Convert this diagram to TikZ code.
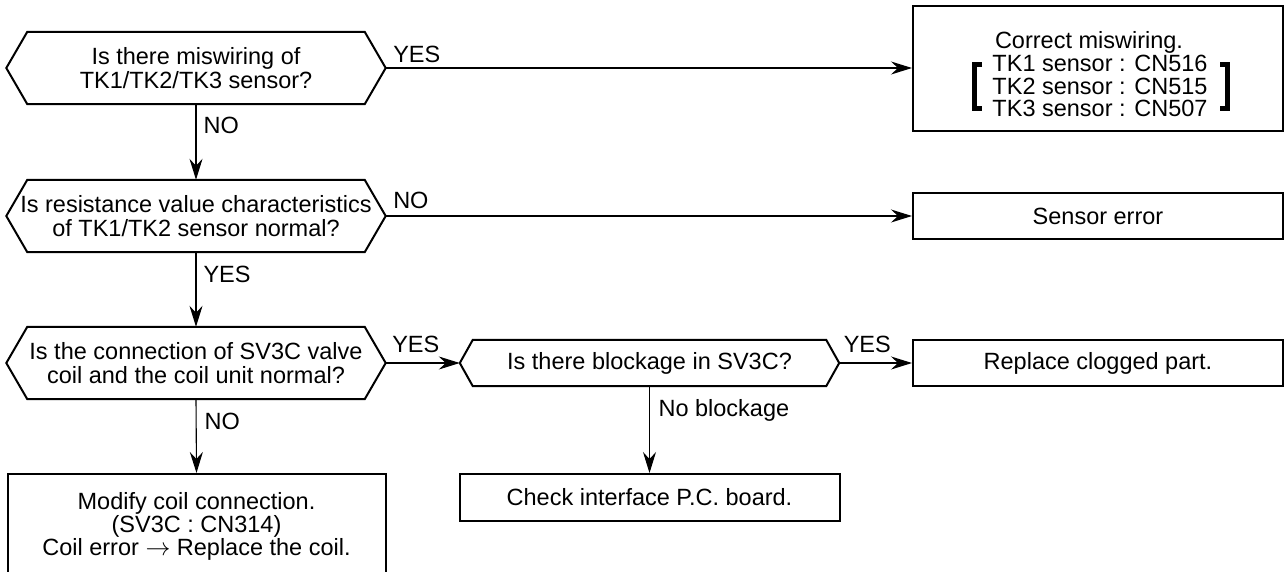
\documentclass[tikz,border=0pt]{standalone}
\usepackage{fontspec}
\setmainfont{Liberation Sans}
\usetikzlibrary{arrows.meta}
\begin{document}
\begin{tikzpicture}[x=1pt,y=-1pt,
  every node/.style={font=\fontsize{23.5}{24}\selectfont, inner sep=0pt},
  hexnode/.style={align=center, minimum width=379pt, minimum height=72pt},
  box/.style={draw, line width=2pt, align=center},
  hexline/.style={line width=2pt, line join=miter},
  conn/.style={line width=1.1pt, -{Stealth[length=21pt,width=13pt,inset=7pt]}},
  lab/.style={anchor=base west}]
\useasboundingbox (0,0) rectangle (1285,571);
\clip (0,0) rectangle (1285,571);

% decision nodes
\node[hexnode] (h1) at (196,68) {Is there miswiring of\\TK1/TK2/TK3 sensor?};
\node[hexnode] (h2) at (196,216) {Is resistance value characteristics\\of TK1/TK2 sensor normal?};
\node[hexnode] (h3) at (196,363) {Is the connection of SV3C valve\\coil and the coil unit normal?};
\node[hexnode, minimum width=379pt, minimum height=46pt] (h4) at (649.5,363) {Is there blockage in SV3C?};

\foreach \n/\c in {h1/21,h2/21,h3/21,h4/13}
  \draw[hexline] (\n.west) -- ([xshift=\c pt]\n.north west) -- ([xshift=-\c pt]\n.north east)
    -- (\n.east) -- ([xshift=-\c pt]\n.south east) -- ([xshift=\c pt]\n.south west) -- cycle;

% process boxes
\node[box, minimum width=370pt, minimum height=125pt] (mis) at (1098,68) {};
\node[align=center, font=\fontsize{23.5}{22.7}\selectfont] (mistxt) at (1100,74.5)
  {Correct miswiring.\hspace*{22pt}\\TK1 sensor : CN516\\TK2 sensor : CN515\\TK3 sensor : CN507};
\draw[line width=5pt] (982,64.5) -- (974.5,64.5) -- (974.5,108.5) -- (982,108.5);
\draw[line width=5pt] (1220,64.5) -- (1227.5,64.5) -- (1227.5,108.5) -- (1220,108.5);

\node[box, minimum width=370pt, minimum height=45.5pt] (sens) at (1098,216) {Sensor error};
\node[box, minimum width=370pt, minimum height=46pt] (clog) at (1098,363) {Replace clogged part.};
\node[box, minimum width=380pt, minimum height=47pt] (chk) at (649.5,497.5) {Check interface P.C. board.};
\node[box, minimum width=378pt, minimum height=200pt] (mod) at (196.5,574) {};
\node[align=center, font=\fontsize{23.5}{23}\selectfont] (modtxt) at (196.5,526)
  {Modify coil connection.\\(SV3C : CN314)\\Coil error $\rightarrow$ Replace the coil.};

% connectors
\draw[conn] (h1.east) -- node[lab, at start, xshift=7pt, yshift=6pt] {YES} (mis.west);
\draw[conn] (h1.south) -- node[lab, at start, xshift=7pt, yshift=-29pt] {NO} (h2.north);
\draw[conn] (h2.east) -- node[lab, at start, xshift=7pt, yshift=8pt] {NO} (sens.west);
\draw[conn] (h2.south) -- node[lab, at start, xshift=7pt, yshift=-30pt] {YES} (h3.north);
\draw[conn] (h3.east) -- node[lab, at start, xshift=6pt, yshift=11pt] {YES} (h4.west);
\draw[conn] (h4.east) -- node[lab, at start, xshift=4pt, yshift=11pt] {YES} (clog.west);
\draw[conn] (h4.south) -- node[lab, at start, xshift=8.5pt, yshift=-30pt] {No blockage} (chk.north);
\draw[conn] (h3.south) -- node[lab, at start, xshift=8pt, yshift=-30pt] {NO} (mod.north);
\end{tikzpicture}
\end{document}
